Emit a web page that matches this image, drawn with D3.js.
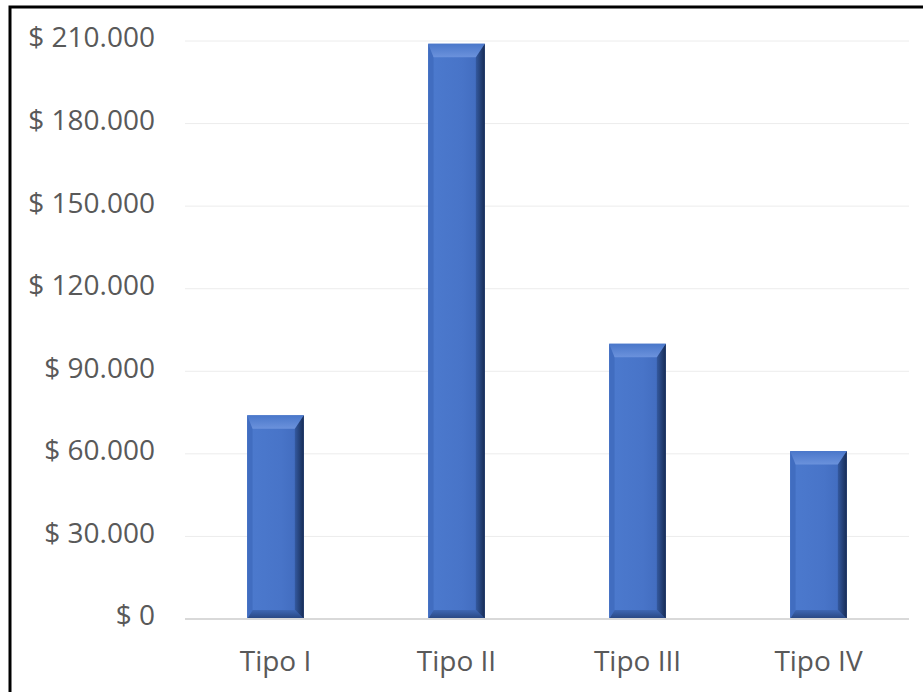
<!DOCTYPE html>
<html>
<head>
<meta charset="utf-8">
<script src="https://cdn.jsdelivr.net/npm/d3@7"></script>
<style>
  body { margin: 0; background: #fff; }
  svg { display: block; font-family: "Open Sans", sans-serif; }
</style>
</head>
<body>
<svg id="svg"></svg>
<script>
// data
const categories = ["Tipo I", "Tipo II", "Tipo III", "Tipo IV"];
const values = [74000, 209000, 100000, 61000];
const yTicks = [0, 30000, 60000, 90000, 120000, 150000, 180000, 210000];

const w = 923;
const h = 692;
const plotLeft = 185, plotRight = 909, plotTop = 41, plotBottom = 619;

let svg = d3.select("#svg")
    .attr("width", w)
    .attr("height", h);

// outer frame (only top and left edges show in the picture)
svg.append("rect")
    .attr("x", 10).attr("y", 7)
    .attr("width", w + 20).attr("height", h + 20)
    .attr("fill", "none")
    .attr("stroke", "#000")
    .attr("stroke-width", 3);

const xScale = d3.scaleBand()
    .domain(categories)
    .range([plotLeft, plotRight])
    .paddingInner(0.687)
    .paddingOuter(0.3435);

const yScale = d3.scaleLinear()
    .domain([0, 210000])
    .range([plotBottom, plotTop]);

const fmt = d => "$ " + d3.format(",")(d).replace(/,/g, ".");

// gridlines
svg.append("g")
    .selectAll("line")
    .data(yTicks.filter(d => d > 0))
    .enter()
    .append("line")
    .attr("x1", plotLeft).attr("x2", plotRight)
    .attr("y1", d => yScale(d)).attr("y2", d => yScale(d))
    .attr("stroke", "#ececec")
    .attr("stroke-width", 1);

// y axis labels
const yAxis = d3.axisLeft(yScale).tickValues(yTicks).tickFormat(fmt).tickSize(0).tickPadding(0);
let yg = svg.append("g")
    .attr("transform", "translate(155,-3)")
    .call(yAxis);
yg.select(".domain").remove();
yg.selectAll("text")
    .attr("fill", "#595959")
    .style("font-size", "28px")
    .style("font-family", "Open Sans, sans-serif");

// gradients for the bevelled bars
let defs = svg.append("defs");
let g1 = defs.append("linearGradient").attr("id", "face").attr("x1", 0).attr("x2", 1).attr("y1", 0).attr("y2", 0);
g1.append("stop").attr("offset", "0%").attr("stop-color", "#4c7ace");
g1.append("stop").attr("offset", "60%").attr("stop-color", "#4874c8");
g1.append("stop").attr("offset", "100%").attr("stop-color", "#3f69bb");

let gr = defs.append("linearGradient").attr("id", "rightEdge").attr("x1", 0).attr("x2", 1).attr("y1", 0).attr("y2", 0);
gr.append("stop").attr("offset", "0%").attr("stop-color", "#34599f");
gr.append("stop").attr("offset", "100%").attr("stop-color", "#172c55");

let gt = defs.append("linearGradient").attr("id", "topEdge").attr("x1", 0).attr("x2", 0).attr("y1", 0).attr("y2", 1);
gt.append("stop").attr("offset", "0%").attr("stop-color", "#4a77ca");
gt.append("stop").attr("offset", "100%").attr("stop-color", "#6b92dc");

let gb = defs.append("linearGradient").attr("id", "bottomEdge").attr("x1", 0).attr("x2", 0).attr("y1", 0).attr("y2", 1);
gb.append("stop").attr("offset", "0%").attr("stop-color", "#3e67b4");
gb.append("stop").attr("offset", "100%").attr("stop-color", "#27457f");

const bev = 9;
const data = categories.map((c, i) => ({ cat: c, val: values[i] }));

let bars = svg.append("g")
    .selectAll("g")
    .data(data)
    .enter()
    .append("g");

bars.append("rect")
    .attr("x", d => xScale(d.cat))
    .attr("y", d => yScale(d.val))
    .attr("width", xScale.bandwidth())
    .attr("height", d => yScale(0) - yScale(d.val))
    .attr("fill", "url(#face)");

function poly(pts) { return pts.map(p => p.join(",")).join(" "); }

// left bevel
bars.append("polygon")
    .attr("points", d => {
        let x0 = xScale(d.cat), y0 = yScale(d.val), y1 = yScale(0);
        return poly([[x0, y0], [x0 + bev * 0.6, y0 + bev], [x0 + bev * 0.6, y1 - bev], [x0, y1]]);
    })
    .attr("fill", "#416dc0");

// right bevel
bars.append("polygon")
    .attr("points", d => {
        let x1 = xScale(d.cat) + xScale.bandwidth(), y0 = yScale(d.val), y1 = yScale(0);
        return poly([[x1, y0], [x1 - bev, y0 + bev], [x1 - bev, y1 - bev], [x1, y1]]);
    })
    .attr("fill", "url(#rightEdge)");

// top bevel
bars.append("polygon")
    .attr("points", d => {
        let x0 = xScale(d.cat), x1 = x0 + xScale.bandwidth(), y0 = yScale(d.val);
        return poly([[x0, y0], [x1, y0], [x1 - bev, y0 + bev * 1.5], [x0 + bev * 0.6, y0 + bev * 1.5]]);
    })
    .attr("fill", "url(#topEdge)");

// bottom bevel
bars.append("polygon")
    .attr("points", d => {
        let x0 = xScale(d.cat), x1 = x0 + xScale.bandwidth(), y1 = yScale(0);
        return poly([[x0, y1], [x1, y1], [x1 - bev, y1 - bev], [x0 + bev * 0.6, y1 - bev]]);
    })
    .attr("fill", "url(#bottomEdge)");

// x axis line
svg.append("line")
    .attr("x1", plotLeft).attr("x2", plotRight)
    .attr("y1", plotBottom).attr("y2", plotBottom)
    .attr("stroke", "#d9d9d9")
    .attr("stroke-width", 2);

// x axis labels
const xAxis = d3.axisBottom(xScale).tickSize(0).tickPadding(0);
let xg = svg.append("g")
    .attr("transform", "translate(0,651)")
    .call(xAxis);
xg.select(".domain").remove();
xg.selectAll("text")
    .attr("fill", "#595959")
    .style("font-size", "28px")
    .style("font-family", "Open Sans, sans-serif");
</script>
</body>
</html>
